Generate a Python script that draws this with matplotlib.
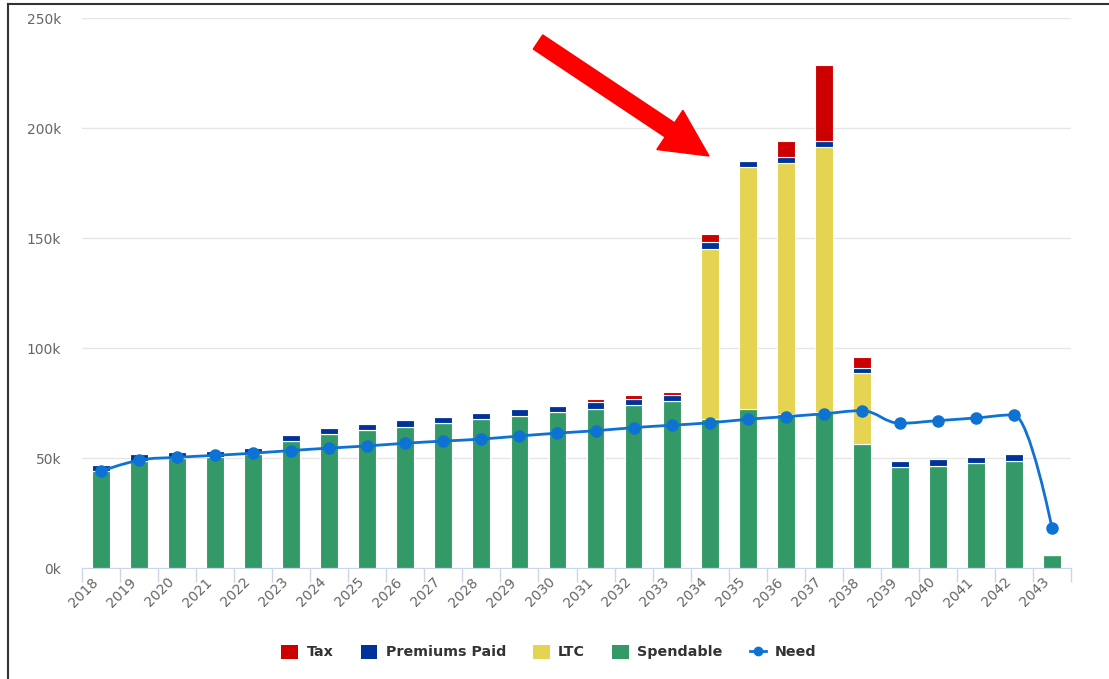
import numpy as np
import matplotlib
matplotlib.use('Agg')
from matplotlib import pyplot as plt
from matplotlib.patches import Patch, FancyArrow
from matplotlib.lines import Line2D
from matplotlib.path import Path
from matplotlib.patches import PathPatch

# values in thousands of dollars
years = [str(y) for y in range(2018, 2044)]
spendable = [44.0, 48.8, 49.9, 50.6, 51.8, 57.7, 60.9, 62.7, 64.1, 65.9, 67.7, 69.1, 70.9,
             72.3, 74.0, 75.9, 67.7, 72.3, 69.8, 70.8, 56.4, 45.9, 46.4, 47.7, 48.6, 5.9]
ltc = [0, 0, 0, 0, 0, 0, 0, 0, 0, 0, 0, 0, 0,
       0, 0, 0, 77.3, 110.0, 114.2, 120.6, 32.2, 0, 0, 0, 0, 0]
premiums = [2.8, 2.9, 2.8, 2.7, 2.9, 2.9, 2.7, 2.8, 3.2, 2.7, 2.8, 3.2, 2.7,
            3.2, 2.8, 2.7, 3.2, 2.7, 2.8, 2.6, 2.3, 2.7, 3.1, 2.8, 3.2, 0]
tax = [0, 0, 0, 0, 0, 0, 0, 0, 0, 0, 0, 0, 0,
       1.3, 1.8, 1.4, 3.6, 0, 7.2, 34.6, 5.0, 0, 0, 0, 0, 0]
need = [44.0, 49.0, 50.3, 51.2, 52.2, 53.4, 54.5, 55.5, 56.7, 57.7, 58.6, 60.0, 61.3,
        62.4, 63.8, 64.9, 66.0, 67.6, 68.8, 70.1, 71.5, 65.8, 67.0, 68.2, 69.6, 18.2]

c_tax = '#cc0000'
c_prem = '#003399'
c_ltc = '#e5d352'
c_spend = '#339966'
c_need = '#0d72d3'


def spline_path(xs, ys, smoothing=1.5):
    # highcharts-like spline through the points
    denom = smoothing + 1
    n = len(xs)
    lc = [(xs[i], ys[i]) for i in range(n)]
    rc = [(xs[i], ys[i]) for i in range(n)]
    for i in range(1, n - 1):
        lx = (smoothing * xs[i] + xs[i - 1]) / denom
        ly = (smoothing * ys[i] + ys[i - 1]) / denom
        rx = (smoothing * xs[i] + xs[i + 1]) / denom
        ry = (smoothing * ys[i] + ys[i + 1]) / denom
        corr = ((ry - ly) * (rx - xs[i])) / (rx - lx) + ys[i] - ry
        ly += corr
        ry += corr
        if ly > ys[i - 1] and ly > ys[i]:
            ly = max(ys[i - 1], ys[i])
            ry = 2 * ys[i] - ly
        elif ly < ys[i - 1] and ly < ys[i]:
            ly = min(ys[i - 1], ys[i])
            ry = 2 * ys[i] - ly
        if ry > ys[i + 1] and ry > ys[i]:
            ry = max(ys[i + 1], ys[i])
            ly = 2 * ys[i] - ry
        elif ry < ys[i + 1] and ry < ys[i]:
            ry = min(ys[i + 1], ys[i])
            ly = 2 * ys[i] - ry
        lc[i] = (lx, ly)
        rc[i] = (rx, ry)
    verts = [(xs[0], ys[0])]
    codes = [Path.MOVETO]
    for i in range(1, n):
        verts += [rc[i - 1], lc[i], (xs[i], ys[i])]
        codes += [Path.CURVE4] * 3
    return Path(verts, codes)


fig = plt.figure(figsize=(11.09, 6.79), dpi=100)
ax = fig.add_axes([82 / 1109, 1 - 568 / 679, (1071 - 82) / 1109, (568 - 18) / 679])

x = np.arange(len(years))
w = 0.47
sp = np.array(spendable)
lt = np.array(ltc)
pr = np.array(premiums)
tx = np.array(tax)
kw = dict(width=w, edgecolor='white', linewidth=0.8, zorder=2)
ax.bar(x, sp, color=c_spend, **kw)
ax.bar(x, lt, bottom=sp, color=c_ltc, **kw)
ax.bar(x, pr, bottom=sp + lt, color=c_prem, **kw)
ax.bar(x, tx, bottom=sp + lt + pr, color=c_tax, **kw)

ax.add_patch(PathPatch(spline_path(list(x), need), fill=False, edgecolor=c_need,
                       linewidth=2.0, zorder=3))
ax.plot(x, need, 'o', color=c_need, markersize=8, zorder=4)

ax.set_xlim(-0.5, len(years) - 0.5)
ax.set_ylim(0, 250)
ax.set_yticks([0, 50, 100, 150, 200, 250])
ax.set_yticklabels(['0k', '50k', '100k', '150k', '200k', '250k'], color='#666666', fontsize=10)
ax.yaxis.grid(True, color='#e6e6e6', linewidth=1)
ax.set_axisbelow(True)
ax.tick_params(axis='y', length=0, pad=15)

ax.set_xticks(x)
ax.set_xticklabels(years, rotation=45, ha='right', color='#666666', fontsize=10)
ax.tick_params(axis='x', length=0, pad=5)
ax.set_xticks(np.arange(len(years) + 1) - 0.5, minor=True)
ax.tick_params(axis='x', which='minor', length=10, color='#ccd6eb', width=1)

for s in ['top', 'right', 'left']:
    ax.spines[s].set_visible(False)
ax.spines['bottom'].set_color('#ccd6eb')

handles = [Patch(facecolor=c_tax), Patch(facecolor=c_prem), Patch(facecolor=c_ltc),
           Patch(facecolor=c_spend),
           Line2D([], [], color=c_need, marker='o', markersize=6, linewidth=2.0)]
labels = ['Tax', 'Premiums Paid', 'LTC', 'Spendable', 'Need']
leg = fig.legend(handles, labels, loc='center', bbox_to_anchor=(549 / 1109, 1 - 652 / 679),
                 ncol=5, frameon=False, handlelength=1.15, handleheight=1.15,
                 handletextpad=0.6, columnspacing=1.9,
                 prop={'weight': 'bold', 'size': 10.3})
for t in leg.get_texts():
    t.set_color('#333333')

# red arrow pointing at the LTC spike
fig.add_artist(FancyArrow(538, 679 - 42, 709 - 538, 42 - 156, width=17, head_width=47,
                          head_length=47, length_includes_head=True, color='#ff0000',
                          transform=None, zorder=10))

# frame lines of the screenshot
fig.add_artist(Line2D([8 / 1109, 8 / 1109], [0, 1 - 4 / 679], color='#333333', linewidth=1.5))
fig.add_artist(Line2D([8 / 1109, 1], [1 - 4 / 679, 1 - 4 / 679], color='#333333', linewidth=1.5))

fig.savefig('out.png', dpi=100)
